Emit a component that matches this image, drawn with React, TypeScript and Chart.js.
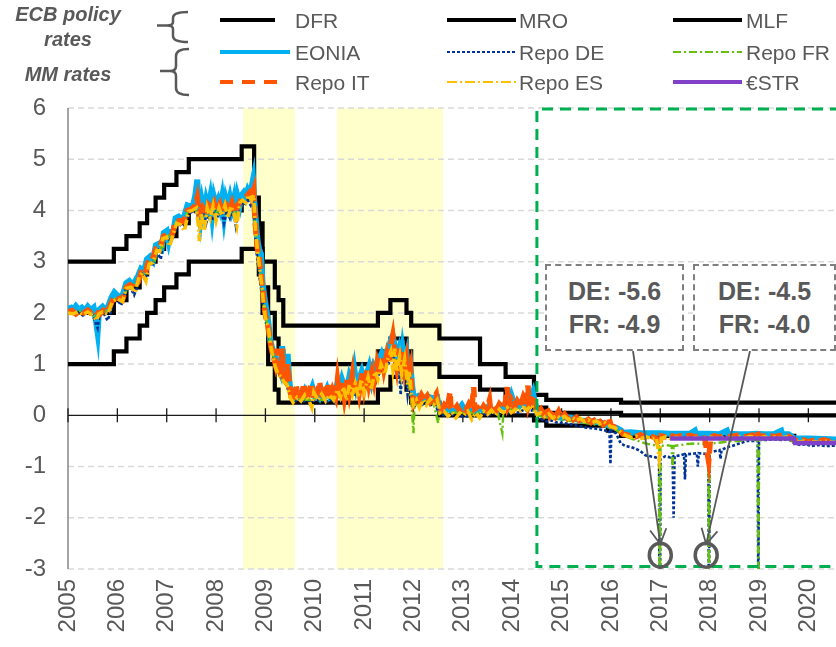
import React, { useEffect, useRef } from 'react';
import { Chart, registerables } from 'chart.js';

Chart.register(...registerables);

const FONT = "'Liberation Sans', Arial, Helvetica, sans-serif";
const GRAY = '#595959';

// ---------- axis settings ----------
const X_MIN = 2005;
const X_MAX = 2020.56;
const Y_MIN = -3;
const Y_MAX = 6;

// ---------- shaded periods (years) ----------
const shadeStarts = [2008.55, 2010.45];
const shadeEnds = [2009.6, 2012.6];

// ---------- ECB policy rates (change dates, decimal years) ----------
const policyDates = [
  2005.0, 2005.929, 2006.184, 2006.452, 2006.603, 2006.775, 2006.948, 2007.197, 2007.447, 2008.519,
  2008.771, 2008.788, 2008.866, 2008.942, 2009.055, 2009.19, 2009.266, 2009.362, 2011.279, 2011.532,
  2011.858, 2011.953, 2012.525, 2013.348, 2013.866, 2014.441, 2014.69, 2015.937, 2016.205, 2019.715, 2020.56,
];
const dfrValues = [
  1.0, 1.25, 1.5, 1.75, 2.0, 2.25, 2.5, 2.75, 3.0, 3.25,
  3.25, 3.25, 2.75, 2.0, 1.0, 0.5, 0.25, 0.25, 0.5, 0.75,
  0.5, 0.25, 0.0, 0.0, 0.0, -0.1, -0.2, -0.3, -0.4, -0.5, -0.5,
];
const mroValues = [
  2.0, 2.25, 2.5, 2.75, 3.0, 3.25, 3.5, 3.75, 4.0, 4.25,
  4.25, 3.75, 3.25, 2.5, 2.0, 1.5, 1.25, 1.0, 1.25, 1.5,
  1.25, 1.0, 0.75, 0.5, 0.25, 0.15, 0.05, 0.05, 0.0, 0.0, 0.0,
];
const mlfValues = [
  3.0, 3.25, 3.5, 3.75, 4.0, 4.25, 4.5, 4.75, 5.0, 5.25,
  4.25, 4.25, 3.75, 3.0, 3.0, 2.5, 2.25, 1.75, 2.0, 2.25,
  2.0, 1.75, 1.5, 1.0, 0.75, 0.4, 0.3, 0.3, 0.25, 0.25, 0.25,
];

// ---------- money market rates: [year, rate] ----------
const eonia: number[][] = [
  [2005.00, 2.08], [2005.06, 2.10], [2005.10, 2.05], [2005.16, 2.13], [2005.22, 2.06], [2005.28, 2.10], [2005.34, 2.04],
  [2005.40, 2.12], [2005.46, 2.05], [2005.52, 2.10], [2005.56, 1.90], [2005.60, 1.62], [2005.63, 2.06], [2005.70, 2.12],
  [2005.76, 2.05], [2005.82, 2.14], [2005.88, 2.30], [2005.94, 2.40], [2006.00, 2.34], [2006.06, 2.30], [2006.12, 2.38],
  [2006.18, 2.58], [2006.24, 2.62], [2006.30, 2.55], [2006.36, 2.62], [2006.42, 2.72], [2006.48, 2.86], [2006.54, 2.82],
  [2006.60, 3.05], [2006.66, 3.10], [2006.72, 3.02], [2006.78, 3.32], [2006.84, 3.35], [2006.90, 3.28], [2006.94, 3.56],
  [2007.00, 3.60], [2007.04, 3.40], [2007.08, 3.58], [2007.14, 3.62], [2007.18, 3.85], [2007.24, 3.88], [2007.30, 3.82],
  [2007.36, 3.90], [2007.42, 4.10], [2007.48, 4.08], [2007.54, 4.12], [2007.58, 4.30], [2007.62, 4.60], [2007.64, 4.05],
  [2007.68, 3.80], [2007.72, 4.15], [2007.76, 3.95], [2007.80, 4.20], [2007.84, 4.05], [2007.88, 4.25], [2007.92, 3.90],
  [2007.96, 4.25], [2008.00, 4.10], [2008.04, 4.20], [2008.08, 4.05], [2008.12, 4.25], [2008.16, 3.90], [2008.20, 4.22],
  [2008.24, 4.08], [2008.28, 4.25], [2008.32, 4.05], [2008.36, 4.22], [2008.40, 3.85], [2008.44, 4.25], [2008.48, 4.10],
  [2008.52, 4.30], [2008.56, 4.35], [2008.60, 4.28], [2008.64, 4.40], [2008.68, 4.32], [2008.72, 4.45], [2008.75, 4.60],
  [2008.78, 4.10], [2008.81, 3.75], [2008.84, 3.40], [2008.87, 3.25], [2008.91, 3.15], [2008.94, 2.60], [2008.98, 2.30],
  [2009.02, 2.05], [2009.06, 1.80], [2009.10, 1.45], [2009.14, 1.30], [2009.18, 1.20], [2009.22, 1.05], [2009.26, 0.95],
  [2009.30, 0.85], [2009.34, 1.35], [2009.37, 0.80], [2009.41, 0.75], [2009.45, 1.20], [2009.48, 0.70], [2009.52, 0.40],
  [2009.56, 0.36], [2009.60, 0.45], [2009.65, 0.38], [2009.70, 0.42], [2009.75, 0.36], [2009.80, 0.48], [2009.85, 0.38],
  [2009.90, 0.42], [2009.95, 0.55], [2010.00, 0.38], [2010.05, 0.45], [2010.10, 0.36], [2010.15, 0.48], [2010.20, 0.40],
  [2010.25, 0.52], [2010.30, 0.38], [2010.35, 0.45], [2010.40, 0.36], [2010.45, 0.60], [2010.50, 0.50], [2010.55, 0.70],
  [2010.60, 0.55], [2010.65, 0.48], [2010.70, 0.75], [2010.75, 0.60], [2010.80, 0.90], [2010.85, 0.55], [2010.90, 0.70],
  [2010.95, 0.85], [2011.00, 0.65], [2011.05, 0.80], [2011.10, 0.95], [2011.15, 0.70], [2011.20, 0.95], [2011.25, 0.85],
  [2011.30, 1.10], [2011.35, 1.20], [2011.40, 1.05], [2011.45, 1.25], [2011.50, 1.30], [2011.55, 1.50], [2011.58, 1.55],
  [2011.62, 1.35], [2011.66, 1.10], [2011.70, 1.25], [2011.74, 0.95], [2011.78, 1.30], [2011.82, 1.05], [2011.86, 1.20],
  [2011.90, 0.80], [2011.94, 0.95], [2011.97, 0.60], [2012.00, 0.38], [2012.05, 0.35], [2012.10, 0.38], [2012.20, 0.34],
  [2012.30, 0.36], [2012.40, 0.33], [2012.48, 0.35], [2012.52, 0.12], [2012.60, 0.10], [2012.70, 0.12], [2012.80, 0.08],
  [2012.90, 0.10], [2012.98, 0.20], [2013.05, 0.08], [2013.15, 0.10], [2013.25, 0.08], [2013.35, 0.12], [2013.45, 0.08],
  [2013.50, 0.15], [2013.60, 0.10], [2013.70, 0.12], [2013.80, 0.15], [2013.90, 0.18], [2013.98, 0.40], [2014.05, 0.20],
  [2014.15, 0.18], [2014.25, 0.25], [2014.30, 0.22], [2014.38, 0.35], [2014.42, 0.45], [2014.46, 0.25], [2014.50, 0.08],
  [2014.60, 0.05], [2014.70, 0.02], [2014.80, 0.00], [2014.90, -0.02], [2015.00, -0.05], [2015.10, -0.04], [2015.20, -0.05],
  [2015.30, -0.08], [2015.40, -0.10], [2015.50, -0.11], [2015.60, -0.12], [2015.70, -0.13], [2015.80, -0.14], [2015.90, -0.18],
  [2016.00, -0.22], [2016.10, -0.24], [2016.20, -0.29], [2016.25, -0.34], [2016.40, -0.33], [2016.60, -0.35], [2016.80, -0.35],
  [2017.00, -0.35], [2017.20, -0.36], [2017.40, -0.36], [2017.60, -0.36], [2017.70, -0.30], [2017.72, -0.36], [2017.80, -0.36],
  [2018.00, -0.36], [2018.20, -0.37], [2018.35, -0.30], [2018.37, -0.36], [2018.60, -0.37], [2018.80, -0.37], [2018.95, -0.36],
  [2019.10, -0.37], [2019.30, -0.37], [2019.45, -0.30], [2019.47, -0.37], [2019.60, -0.37], [2019.72, -0.45], [2020.00, -0.45],
  [2020.30, -0.46], [2020.56, -0.47],
];

const repoDE: number[][] = [
  [2005.00, 2.00], [2005.10, 1.98], [2005.20, 2.02], [2005.30, 1.95], [2005.40, 2.00], [2005.50, 1.96], [2005.56, 1.80],
  [2005.60, 1.70], [2005.64, 1.96], [2005.72, 2.00], [2005.80, 1.85], [2005.86, 2.00], [2005.92, 2.25], [2006.00, 2.25],
  [2006.08, 2.15], [2006.16, 2.45], [2006.26, 2.50], [2006.34, 2.35], [2006.42, 2.55], [2006.50, 2.75], [2006.56, 2.65],
  [2006.64, 2.95], [2006.72, 2.95], [2006.80, 3.20], [2006.88, 3.05], [2006.94, 3.45], [2007.00, 3.48], [2007.08, 3.40],
  [2007.16, 3.55], [2007.22, 3.75], [2007.30, 3.70], [2007.38, 3.72], [2007.46, 3.95], [2007.54, 3.98], [2007.62, 3.95],
  [2007.68, 3.65], [2007.74, 3.95], [2007.80, 3.75], [2007.86, 4.00], [2007.92, 3.80], [2007.98, 4.05], [2008.04, 3.90],
  [2008.10, 4.02], [2008.16, 3.75], [2008.22, 4.00], [2008.28, 3.85], [2008.34, 4.05], [2008.40, 3.70], [2008.46, 4.05],
  [2008.52, 4.15], [2008.58, 4.10], [2008.64, 4.20], [2008.70, 4.10], [2008.76, 4.25], [2008.80, 3.40], [2008.84, 3.00],
  [2008.88, 2.70], [2008.92, 2.40], [2008.96, 2.10], [2009.00, 1.85], [2009.06, 1.60], [2009.12, 1.25], [2009.18, 1.05],
  [2009.24, 0.90], [2009.30, 0.75], [2009.36, 0.70], [2009.42, 0.60], [2009.48, 0.45], [2009.54, 0.30], [2009.62, 0.28],
  [2009.72, 0.32], [2009.82, 0.26], [2009.92, 0.30], [2010.02, 0.28], [2010.12, 0.32], [2010.22, 0.25], [2010.32, 0.30],
  [2010.42, 0.28], [2010.52, 0.38], [2010.62, 0.35], [2010.72, 0.45], [2010.82, 0.40], [2010.92, 0.55], [2011.02, 0.50],
  [2011.12, 0.65], [2011.22, 0.60], [2011.32, 0.85], [2011.42, 0.90], [2011.52, 1.05], [2011.58, 1.20], [2011.64, 0.90],
  [2011.70, 1.00], [2011.74, 0.40], [2011.78, 0.95], [2011.84, 0.80], [2011.88, 0.40], [2011.92, 0.70], [2011.96, 0.35],
  [2012.00, 0.15], [2012.06, 0.22], [2012.14, 0.18], [2012.24, 0.25], [2012.34, 0.20], [2012.44, 0.22], [2012.52, 0.02],
  [2012.62, 0.00], [2012.72, -0.02], [2012.82, 0.02], [2012.92, -0.04], [2013.02, 0.00], [2013.12, -0.03], [2013.22, 0.02],
  [2013.32, -0.02], [2013.42, 0.03], [2013.52, 0.00], [2013.62, 0.04], [2013.72, 0.02], [2013.82, 0.06], [2013.92, 0.04],
  [2014.02, 0.08], [2014.12, 0.05], [2014.22, 0.10], [2014.32, 0.08], [2014.42, 0.10], [2014.50, -0.05], [2014.60, -0.08],
  [2014.70, -0.12], [2014.80, -0.10], [2014.90, -0.14], [2015.00, -0.15], [2015.10, -0.16], [2015.20, -0.18], [2015.30, -0.20],
  [2015.40, -0.22], [2015.50, -0.24], [2015.60, -0.25], [2015.70, -0.26], [2015.80, -0.28], [2015.90, -0.30], [2015.97, -0.30],
  [2015.99, -0.95], [2016.01, -0.30], [2016.10, -0.35], [2016.20, -0.55], [2016.30, -0.60], [2016.40, -0.62], [2016.50, -0.65],
  [2016.60, -0.70], [2016.70, -0.78], [2016.80, -0.80], [2016.90, -0.82], [2016.975, -0.85], [2016.99, -5.6], [2017.005, -0.85],
  [2017.10, -0.80], [2017.20, -0.82], [2017.25, -0.80], [2017.27, -2.0], [2017.29, -0.80], [2017.40, -0.78], [2017.48, -0.76],
  [2017.50, -1.25], [2017.52, -0.76], [2017.65, -0.75], [2017.74, -0.74], [2017.76, -1.0], [2017.78, -0.74], [2017.90, -0.75],
  [2017.975, -0.75], [2017.985, -4.5], [2018.0, -0.72], [2018.10, -0.70], [2018.20, -0.68], [2018.22, -0.85], [2018.24, -0.68],
  [2018.35, -0.62], [2018.45, -0.60], [2018.60, -0.55], [2018.75, -0.50], [2018.90, -0.50], [2018.975, -0.50], [2018.985, -3.6],
  [2019.0, -0.48], [2019.15, -0.48], [2019.30, -0.47], [2019.45, -0.48], [2019.60, -0.47], [2019.72, -0.55], [2019.85, -0.58],
  [2019.95, -0.56], [2020.05, -0.60], [2020.20, -0.58], [2020.35, -0.60], [2020.56, -0.59],
];

const repoFR: number[][] = [
  [2005.00, 2.04], [2005.15, 2.02], [2005.30, 2.05], [2005.45, 2.00], [2005.58, 1.90], [2005.64, 2.02], [2005.78, 2.04],
  [2005.90, 2.25], [2006.00, 2.30], [2006.15, 2.30], [2006.20, 2.52], [2006.35, 2.50], [2006.46, 2.78], [2006.58, 2.75],
  [2006.64, 3.00], [2006.76, 3.02], [2006.82, 3.25], [2006.92, 3.28], [2006.96, 3.50], [2007.10, 3.52], [2007.20, 3.78],
  [2007.35, 3.80], [2007.45, 4.02], [2007.58, 4.05], [2007.64, 3.85], [2007.72, 4.05], [2007.80, 3.90], [2007.90, 4.10],
  [2008.00, 3.95], [2008.10, 4.10], [2008.20, 4.00], [2008.30, 4.12], [2008.40, 3.90], [2008.50, 4.20], [2008.62, 4.25],
  [2008.74, 4.30], [2008.80, 3.60], [2008.86, 3.10], [2008.92, 2.50], [2008.98, 2.10], [2009.05, 1.70], [2009.12, 1.30],
  [2009.20, 1.00], [2009.28, 0.80], [2009.36, 0.70], [2009.44, 0.65], [2009.50, 0.40], [2009.58, 0.30], [2009.70, 0.33],
  [2009.85, 0.30], [2010.00, 0.32], [2010.15, 0.30], [2010.30, 0.33], [2010.45, 0.35], [2010.60, 0.40], [2010.75, 0.48],
  [2010.90, 0.55], [2011.05, 0.60], [2011.20, 0.70], [2011.35, 0.95], [2011.50, 1.10], [2011.58, 1.30], [2011.66, 1.00],
  [2011.74, 1.10], [2011.82, 0.90], [2011.90, 0.65], [2011.96, 0.20], [2012.00, -0.35], [2012.02, 0.20], [2012.10, 0.25],
  [2012.25, 0.28], [2012.40, 0.26], [2012.50, -0.15], [2012.52, 0.08], [2012.65, 0.05], [2012.80, 0.06], [2012.95, 0.04],
  [2013.10, 0.06], [2013.25, 0.04], [2013.40, 0.07], [2013.55, 0.05], [2013.70, 0.08], [2013.80, -0.35], [2013.82, 0.08],
  [2013.95, 0.12], [2014.10, 0.12], [2014.25, 0.15], [2014.40, 0.15], [2014.50, 0.00], [2014.65, -0.04], [2014.80, -0.06],
  [2014.95, -0.08], [2015.10, -0.10], [2015.25, -0.12], [2015.40, -0.14], [2015.55, -0.16], [2015.70, -0.18], [2015.85, -0.20],
  [2015.98, -0.25], [2016.10, -0.28], [2016.25, -0.40], [2016.40, -0.45], [2016.55, -0.50], [2016.70, -0.55], [2016.85, -0.58],
  [2016.975, -0.60], [2016.99, -4.9], [2017.005, -0.60], [2017.12, -0.58], [2017.23, -0.60], [2017.25, -1.05], [2017.27, -0.60],
  [2017.40, -0.58], [2017.55, -0.56], [2017.70, -0.55], [2017.85, -0.56], [2017.975, -0.56], [2017.985, -4.0], [2018.0, -0.55],
  [2018.15, -0.54], [2018.30, -0.52], [2018.45, -0.50], [2018.60, -0.50], [2018.75, -0.48], [2018.90, -0.48], [2018.975, -0.50],
  [2018.985, -3.4], [2019.0, -0.48], [2019.15, -0.47], [2019.30, -0.46], [2019.45, -0.47], [2019.60, -0.46], [2019.72, -0.54],
  [2019.85, -0.55], [2020.00, -0.56], [2020.20, -0.55], [2020.40, -0.56], [2020.56, -0.55],
];

const repoIT: number[][] = [
  [2005.00, 2.02], [2005.08, 2.05], [2005.16, 1.98], [2005.24, 2.04], [2005.32, 2.00], [2005.40, 2.05], [2005.48, 1.98],
  [2005.56, 2.03], [2005.64, 1.97], [2005.72, 2.05], [2005.80, 2.02], [2005.88, 2.20], [2005.94, 2.32], [2006.02, 2.28],
  [2006.10, 2.25], [2006.18, 2.50], [2006.26, 2.55], [2006.34, 2.50], [2006.42, 2.60], [2006.48, 2.78], [2006.56, 2.75],
  [2006.62, 2.98], [2006.70, 3.02], [2006.78, 3.25], [2006.86, 3.28], [2006.94, 3.50], [2007.02, 3.52], [2007.10, 3.50],
  [2007.18, 3.78], [2007.26, 3.80], [2007.34, 3.78], [2007.42, 4.00], [2007.50, 4.02], [2007.58, 4.10], [2007.62, 4.25],
  [2007.66, 3.95], [2007.72, 4.05], [2007.78, 3.90], [2007.84, 4.10], [2007.90, 4.00], [2007.96, 4.15], [2008.02, 3.98],
  [2008.08, 4.12], [2008.14, 3.95], [2008.20, 4.10], [2008.26, 4.00], [2008.32, 4.15], [2008.38, 3.95], [2008.44, 4.10],
  [2008.50, 4.20], [2008.56, 4.25], [2008.62, 4.28], [2008.68, 4.35], [2008.72, 4.25], [2008.76, 4.38], [2008.79, 3.80],
  [2008.83, 3.30], [2008.87, 3.10], [2008.91, 2.80], [2008.95, 2.40], [2008.99, 2.00], [2009.04, 1.80], [2009.08, 1.55],
  [2009.12, 1.30], [2009.16, 1.15], [2009.20, 1.00], [2009.24, 1.30], [2009.27, 0.90], [2009.31, 0.75], [2009.34, 1.30],
  [2009.37, 0.70], [2009.41, 0.65], [2009.45, 1.00], [2009.49, 0.55], [2009.53, 0.32], [2009.57, 0.28], [2009.62, 0.60],
  [2009.66, 0.30], [2009.72, 0.35], [2009.78, 0.62], [2009.82, 0.30], [2009.88, 0.45], [2009.93, 0.62], [2009.98, 0.30],
  [2010.04, 0.40], [2010.10, 0.65], [2010.14, 0.32], [2010.20, 0.45], [2010.26, 0.62], [2010.30, 0.30], [2010.36, 0.50],
  [2010.42, 0.35], [2010.46, 0.70], [2010.50, 0.40], [2010.56, 0.65], [2010.60, 0.35], [2010.66, 0.72], [2010.70, 0.45],
  [2010.76, 0.80], [2010.80, 0.40], [2010.86, 0.70], [2010.90, 0.45], [2010.96, 0.85], [2011.00, 0.55], [2011.06, 0.90],
  [2011.10, 0.60], [2011.16, 0.85], [2011.20, 0.65], [2011.26, 1.00], [2011.30, 0.80], [2011.36, 1.15], [2011.40, 0.90],
  [2011.46, 1.20], [2011.50, 1.05], [2011.55, 1.40], [2011.58, 1.55], [2011.62, 1.20], [2011.66, 0.95], [2011.70, 1.30],
  [2011.74, 0.85], [2011.78, 1.25], [2011.82, 0.90], [2011.86, 1.10], [2011.90, 0.70], [2011.94, 0.90], [2011.97, 0.45],
  [2012.00, 0.25], [2012.04, 0.35], [2012.10, 0.28], [2012.16, 0.40], [2012.22, 0.30], [2012.28, 0.38], [2012.34, 0.26],
  [2012.40, 0.33], [2012.46, 0.42], [2012.50, 0.15], [2012.56, 0.10], [2012.62, 0.20], [2012.68, 0.12], [2012.74, 0.45],
  [2012.76, 0.15], [2012.82, 0.10], [2012.88, 0.18], [2012.94, 0.08], [2013.00, 0.15], [2013.06, 0.10], [2013.12, 0.22],
  [2013.18, 0.12], [2013.22, 0.55], [2013.24, 0.12], [2013.30, 0.15], [2013.36, 0.08], [2013.42, 0.18], [2013.48, 0.10],
  [2013.54, 0.30], [2013.56, 0.12], [2013.62, 0.18], [2013.68, 0.10], [2013.74, 0.22], [2013.80, 0.15], [2013.86, 0.25],
  [2013.90, 0.55], [2013.92, 0.18], [2013.98, 0.30], [2014.04, 0.15], [2014.10, 0.28], [2014.16, 0.18], [2014.22, 0.35],
  [2014.28, 0.20], [2014.32, 0.58], [2014.34, 0.22], [2014.40, 0.40], [2014.44, 0.25], [2014.48, 0.15], [2014.52, 0.05],
  [2014.58, 0.12], [2014.64, 0.02], [2014.70, 0.15], [2014.76, 0.00], [2014.82, 0.10], [2014.88, -0.02], [2014.94, 0.08],
  [2015.00, -0.05], [2015.06, 0.02], [2015.12, -0.06], [2015.18, 0.00], [2015.24, -0.08], [2015.30, -0.04], [2015.36, -0.10],
  [2015.42, -0.06], [2015.48, -0.12], [2015.54, -0.08], [2015.60, -0.14], [2015.66, -0.10], [2015.72, -0.16], [2015.78, -0.12],
  [2015.84, -0.18], [2015.90, -0.14], [2015.96, -0.05], [2016.00, -0.20], [2016.06, -0.22], [2016.12, -0.26], [2016.18, -0.30],
  [2016.24, -0.36], [2016.30, -0.38], [2016.40, -0.40], [2016.50, -0.42], [2016.60, -0.38], [2016.70, -0.43], [2016.80, -0.40],
  [2016.90, -0.44], [2016.98, -0.60], [2017.02, -0.40], [2017.10, -0.42], [2017.20, -0.38], [2017.30, -0.43], [2017.40, -0.40],
  [2017.50, -0.42], [2017.60, -0.39], [2017.70, -0.42], [2017.80, -0.40], [2017.90, -0.45], [2017.98, -0.90], [2018.02, -0.42],
  [2018.10, -0.40], [2018.20, -0.43], [2018.30, -0.39], [2018.40, -0.42], [2018.50, -0.40], [2018.60, -0.38], [2018.70, -0.42],
  [2018.80, -0.40], [2018.90, -0.38], [2018.96, -0.30], [2019.00, -0.42], [2019.10, -0.40], [2019.20, -0.38], [2019.30, -0.42],
  [2019.40, -0.40], [2019.50, -0.39], [2019.60, -0.41], [2019.72, -0.48], [2019.80, -0.50], [2019.90, -0.48], [2020.00, -0.52],
  [2020.10, -0.49], [2020.20, -0.51], [2020.30, -0.48], [2020.40, -0.50], [2020.56, -0.52],
];

const repoES: number[][] = [
  [2005.00, 2.00], [2005.10, 1.98], [2005.20, 2.02], [2005.30, 1.96], [2005.40, 2.02], [2005.50, 1.95], [2005.58, 1.85],
  [2005.62, 1.98], [2005.70, 2.02], [2005.80, 1.97], [2005.90, 2.22], [2006.00, 2.28], [2006.10, 2.22], [2006.18, 2.48],
  [2006.28, 2.50], [2006.36, 2.40], [2006.44, 2.70], [2006.50, 2.78], [2006.58, 2.62], [2006.64, 2.95], [2006.72, 2.98],
  [2006.80, 3.22], [2006.86, 3.20], [2006.92, 3.45], [2007.00, 3.48], [2007.06, 3.30], [2007.12, 3.50], [2007.20, 3.75],
  [2007.28, 3.72], [2007.36, 3.60], [2007.44, 3.98], [2007.52, 4.00], [2007.60, 4.05], [2007.64, 3.70], [2007.66, 3.40],
  [2007.70, 3.95], [2007.76, 3.60], [2007.82, 4.05], [2007.88, 3.85], [2007.94, 4.10], [2008.00, 3.80], [2008.06, 4.05],
  [2008.12, 3.90], [2008.18, 4.10], [2008.24, 3.85], [2008.30, 4.08], [2008.36, 3.95], [2008.42, 3.70], [2008.48, 4.15],
  [2008.54, 4.20], [2008.60, 4.15], [2008.66, 4.30], [2008.72, 4.20], [2008.76, 4.30], [2008.80, 3.60], [2008.84, 3.20],
  [2008.88, 2.90], [2008.92, 2.60], [2008.96, 2.20], [2009.00, 1.90], [2009.06, 1.70], [2009.10, 1.40], [2009.14, 1.20],
  [2009.20, 0.95], [2009.26, 0.80], [2009.32, 0.75], [2009.38, 0.65], [2009.44, 0.60], [2009.50, 0.35], [2009.56, 0.25],
  [2009.64, 0.35], [2009.72, 0.28], [2009.80, 0.40], [2009.88, 0.30], [2009.94, 0.15], [2009.98, 0.45], [2010.06, 0.30],
  [2010.14, 0.42], [2010.22, 0.28], [2010.30, 0.40], [2010.38, 0.30], [2010.46, 0.50], [2010.52, 0.35], [2010.58, 0.55],
  [2010.64, 0.30], [2010.70, 0.60], [2010.76, 0.40], [2010.82, 0.62], [2010.88, 0.35], [2010.94, 0.70], [2011.00, 0.45],
  [2011.08, 0.75], [2011.14, 0.50], [2011.22, 0.85], [2011.28, 0.70], [2011.34, 1.00], [2011.42, 0.80], [2011.48, 1.10],
  [2011.54, 1.25], [2011.58, 0.90], [2011.62, 1.30], [2011.66, 0.85], [2011.72, 1.15], [2011.76, 0.80], [2011.82, 1.10],
  [2011.88, 0.60], [2011.92, 0.85], [2011.96, 0.40], [2012.00, 0.20], [2012.06, 0.30], [2012.12, 0.15], [2012.20, 0.30],
  [2012.26, 0.20], [2012.34, 0.32], [2012.42, 0.22], [2012.48, 0.30], [2012.54, 0.05], [2012.62, 0.08], [2012.70, -0.02],
  [2012.78, 0.06], [2012.86, -0.05], [2012.94, 0.05], [2013.02, 0.00], [2013.10, 0.08], [2013.18, -0.08], [2013.26, 0.05],
  [2013.34, -0.05], [2013.42, 0.08], [2013.50, 0.02], [2013.58, 0.10], [2013.66, 0.00], [2013.74, 0.12], [2013.82, 0.05],
  [2013.90, 0.15], [2013.98, 0.05], [2014.06, 0.12], [2014.14, 0.06], [2014.22, 0.15], [2014.30, 0.10], [2014.38, 0.20],
  [2014.44, 0.12], [2014.50, 0.02], [2014.58, 0.05], [2014.66, -0.02], [2014.74, 0.03], [2014.82, -0.05], [2014.90, 0.00],
  [2014.98, -0.06], [2015.06, -0.02], [2015.14, -0.08], [2015.22, -0.04], [2015.30, -0.10], [2015.38, -0.06], [2015.46, -0.12],
  [2015.54, -0.09], [2015.62, -0.14], [2015.70, -0.11], [2015.78, -0.16], [2015.86, -0.13], [2015.94, -0.18], [2016.00, -0.22],
  [2016.08, -0.24], [2016.16, -0.30], [2016.24, -0.36], [2016.32, -0.40], [2016.42, -0.43], [2016.52, -0.41], [2016.62, -0.45],
  [2016.72, -0.42], [2016.82, -0.46], [2016.92, -0.44], [2016.98, -0.85], [2017.02, -0.45], [2017.12, -0.42], [2017.22, -0.46],
  [2017.32, -0.43], [2017.42, -0.45], [2017.52, -0.42], [2017.62, -0.46], [2017.72, -0.43], [2017.82, -0.45], [2017.92, -0.44],
  [2018.02, -0.43], [2018.12, -0.45], [2018.22, -0.42], [2018.32, -0.46], [2018.42, -0.43], [2018.52, -0.45], [2018.62, -0.42],
  [2018.72, -0.44], [2018.82, -0.41], [2018.92, -0.43], [2019.02, -0.44], [2019.12, -0.42], [2019.22, -0.45], [2019.32, -0.42],
  [2019.42, -0.44], [2019.52, -0.43], [2019.62, -0.42], [2019.72, -0.50], [2019.82, -0.52], [2019.92, -0.50], [2020.02, -0.53],
  [2020.12, -0.51], [2020.22, -0.53], [2020.32, -0.50], [2020.42, -0.52], [2020.56, -0.53],
];

const estr: number[][] = [
  [2017.20, -0.45], [2017.60, -0.45], [2018.00, -0.45], [2018.50, -0.45], [2019.00, -0.45], [2019.71, -0.45],
  [2019.73, -0.54], [2020.10, -0.54], [2020.56, -0.54],
];

// ---------- annotations ----------
const calloutDE = ['-5.6', '-4.5'];
const calloutFR = ['-4.9', '-4.0'];
const circleYears = [2017.0, 2017.93];
const circleValue = -2.73;

// ---------- legend ----------
const legendLabels = ['DFR', 'MRO', 'MLF', 'EONIA', 'Repo DE', 'Repo FR', 'Repo IT', 'Repo ES', '€STR'];
const legendColors = ['#000000', '#000000', '#000000', '#00B0F0', '#003399', '#66C010', '#FF5500', '#FFC000', '#8040C8'];

const pairs = (p: number[][]) => p.map(([x, y]) => ({ x, y }));
const zipXY = (xs: number[], ys: number[]) => xs.map((x, i) => ({ x, y: ys[i] }));

const decorPlugin = {
  id: 'decor',
  beforeDatasetsDraw(chart: any) {
    const { ctx, chartArea: a, scales } = chart;
    const xs = scales.x;
    const ys = scales.y;
    ctx.save();
    // shaded periods
    ctx.fillStyle = '#FFFFCC';
    shadeStarts.forEach((s, i) => {
      const x1 = xs.getPixelForValue(s);
      const x2 = xs.getPixelForValue(shadeEnds[i]);
      ctx.fillRect(x1, a.top, x2 - x1, a.bottom - a.top);
    });
    // dashed grid
    ctx.strokeStyle = '#D9D9D9';
    ctx.lineWidth = 1.5;
    ctx.setLineDash([6, 4]);
    for (let v = Y_MIN; v <= Y_MAX; v++) {
      if (v === 0) continue;
      const py = ys.getPixelForValue(v);
      ctx.beginPath();
      ctx.moveTo(a.left, py);
      ctx.lineTo(a.right, py);
      ctx.stroke();
    }
    ctx.setLineDash([]);
    // y axis line
    ctx.strokeStyle = '#868686';
    ctx.lineWidth = 1.5;
    ctx.beginPath();
    ctx.moveTo(a.left, a.top);
    ctx.lineTo(a.left, a.bottom);
    ctx.stroke();
    // zero axis with crossing ticks
    const y0 = ys.getPixelForValue(0);
    ctx.strokeStyle = '#1a1a1a';
    ctx.lineWidth = 1.3;
    ctx.beginPath();
    ctx.moveTo(a.left, y0);
    ctx.lineTo(a.right, y0);
    for (let yr = 2005; yr <= 2020; yr++) {
      const px = xs.getPixelForValue(yr);
      ctx.moveTo(px, y0 - 7);
      ctx.lineTo(px, y0 + 7);
    }
    ctx.stroke();
    ctx.restore();
  },
  afterDatasetsDraw(chart: any) {
    const { ctx, chartArea: a, scales } = chart;
    const xs = scales.x;
    const ys = scales.y;
    ctx.save();
    // green dashed box
    ctx.strokeStyle = '#00B050';
    ctx.lineWidth = 3;
    ctx.setLineDash([11, 7]);
    const gx = xs.getPixelForValue(2014.5);
    const gt = ys.getPixelForValue(6) + 1;
    const gb = ys.getPixelForValue(-2.95);
    ctx.beginPath();
    ctx.moveTo(a.right + 5, gt);
    ctx.lineTo(gx, gt);
    ctx.lineTo(gx, gb);
    ctx.lineTo(a.right + 5, gb);
    ctx.stroke();
    ctx.setLineDash([]);
    // arrows and circles
    const starts = [[633, 351], [750, 351]];
    ctx.strokeStyle = GRAY;
    circleYears.forEach((yr, i) => {
      const cx = xs.getPixelForValue(yr);
      const cy = ys.getPixelForValue(circleValue);
      const [sx, sy] = starts[i];
      const ex = cx;
      const ey = cy - 11;
      ctx.lineWidth = 1.8;
      ctx.beginPath();
      ctx.moveTo(sx, sy);
      ctx.lineTo(ex, ey);
      const ang = Math.atan2(ey - sy, ex - sx);
      const L = 17;
      const spread = 0.5;
      ctx.moveTo(ex - L * Math.cos(ang - spread), ey - L * Math.sin(ang - spread));
      ctx.lineTo(ex, ey);
      ctx.lineTo(ex - L * Math.cos(ang + spread), ey - L * Math.sin(ang + spread));
      ctx.stroke();
      ctx.lineWidth = 3.5;
      ctx.beginPath();
      ctx.ellipse(cx, cy, 11, 12, 0, 0, Math.PI * 2);
      ctx.stroke();
    });
    ctx.restore();
  },
};

function LegendLine({ x1, x2, y, color, width, dash }: any) {
  return <line x1={x1} x2={x2} y1={y} y2={y} stroke={color} strokeWidth={width} strokeDasharray={dash} />;
}

export default function App() {
  const ref = useRef<HTMLCanvasElement>(null);

  useEffect(() => {
    if (!ref.current) return;
    const blackLine = (label: string, values: number[]) => ({
      label,
      data: zipXY(policyDates, values),
      borderColor: '#000000',
      borderWidth: 4.2,
      stepped: true,
      order: 10,
    });
    const chart = new Chart(ref.current, {
      type: 'line',
      data: {
        datasets: [
          blackLine('DFR', dfrValues),
          blackLine('MRO', mroValues),
          blackLine('MLF', mlfValues),
          { label: 'EONIA', data: pairs(eonia), borderColor: legendColors[3], borderWidth: 6, order: 6 },
          { label: 'Repo DE', data: pairs(repoDE), borderColor: legendColors[4], borderWidth: 2.6, borderDash: [3, 2], order: 5 },
          { label: 'Repo FR', data: pairs(repoFR), borderColor: legendColors[5], borderWidth: 2.4, borderDash: [8, 3, 2, 3], order: 4 },
          { label: 'Repo IT', data: pairs(repoIT), borderColor: legendColors[6], borderWidth: 5.5, borderDash: [12, 5], order: 3 },
          { label: 'Repo ES', data: pairs(repoES), borderColor: legendColors[7], borderWidth: 3.5, borderDash: [10, 3, 2, 3], order: 2 },
          { label: '€STR', data: pairs(estr), borderColor: legendColors[8], borderWidth: 4.5, order: 1 },
        ] as any,
      },
      options: {
        responsive: false,
        animation: false,
        devicePixelRatio: 1,
        parsing: true,
        layout: { padding: { top: 108, right: 0, left: 0, bottom: 0 } },
        elements: { point: { radius: 0 }, line: { tension: 0, fill: false } },
        plugins: { legend: { display: false }, tooltip: { enabled: false } },
        scales: {
          x: {
            type: 'linear',
            min: X_MIN,
            max: X_MAX,
            grid: { display: false, drawTicks: false },
            border: { display: false },
            afterFit: (s: any) => { s.height = 78; s.paddingLeft = 0; s.paddingRight = 0; },
            ticks: {
              stepSize: 1,
              autoSkip: false,
              includeBounds: false,
              minRotation: 90,
              maxRotation: 90,
              padding: 10,
              color: GRAY,
              font: { family: FONT, size: 24 },
              callback: (v: any) => String(v),
            },
          },
          y: {
            type: 'linear',
            min: Y_MIN,
            max: Y_MAX,
            grid: { display: false, drawTicks: false },
            border: { display: false },
            afterFit: (s: any) => { s.width = 68; s.paddingTop = 0; s.paddingBottom = 0; },
            ticks: {
              stepSize: 1,
              padding: 22,
              color: GRAY,
              font: { family: FONT, size: 24 },
              callback: (v: any) => String(v),
            },
          },
        },
      } as any,
      plugins: [decorPlugin],
    });
    return () => chart.destroy();
  }, []);

  const textStyle = (left: number, cy: number): React.CSSProperties => ({
    position: 'absolute', left, top: cy - 12, lineHeight: '24px', fontSize: 21, color: GRAY, whiteSpace: 'nowrap',
  });
  const boxStyle = (left: number, width: number): React.CSSProperties => ({
    position: 'absolute', left, top: 264, width, height: 87, boxSizing: 'border-box',
    border: '2px dashed #7F7F7F', background: '#ffffff', display: 'flex', flexDirection: 'column',
    justifyContent: 'center', alignItems: 'center', fontWeight: 'bold', fontSize: 25, lineHeight: '33px', color: GRAY,
  });
  const colX = [[220, 275, 295], [447, 516, 519], [673, 742, 746]];
  const rowY = [20, 52, 82];

  return (
    <div style={{ position: 'absolute', left: 0, top: 0, width: 836, height: 647, background: '#fff', fontFamily: FONT, overflow: 'hidden' }}>
      <canvas ref={ref} width={836} height={647} style={{ position: 'absolute', left: 0, top: 0, width: 836, height: 647 }} />
      {/* left group labels */}
      <div style={{ position: 'absolute', left: 0, top: 2, width: 136, textAlign: 'center', fontWeight: 'bold', fontStyle: 'italic', fontSize: 20, lineHeight: '25px', color: GRAY }}>
        ECB policy<br />rates
      </div>
      <div style={{ position: 'absolute', left: 0, top: 62, width: 136, textAlign: 'center', fontWeight: 'bold', fontStyle: 'italic', fontSize: 20, lineHeight: '25px', color: GRAY }}>
        MM rates
      </div>
      <svg width={836} height={100} style={{ position: 'absolute', left: 0, top: 0 }}>
        <path d="M188 12 Q173 12 173 18 L173 22 Q173 25.5 167 25.5 L157 25.5 M167 25.5 Q173 25.5 173 29 L173 36 Q173 42 188 42" fill="none" stroke={GRAY} strokeWidth={2.5} />
        <path d="M189 49 Q176 49 176 56 L176 66 Q176 71 170 71 L160 71 M170 71 Q176 71 176 76 L176 88 Q176 95 189 95" fill="none" stroke={GRAY} strokeWidth={2.5} />
        <LegendLine x1={colX[0][0]} x2={colX[0][1]} y={rowY[0]} color={legendColors[0]} width={4} />
        <LegendLine x1={colX[1][0]} x2={colX[1][1]} y={rowY[0]} color={legendColors[1]} width={4} />
        <LegendLine x1={colX[2][0]} x2={colX[2][1]} y={rowY[0]} color={legendColors[2]} width={4} />
        <LegendLine x1={colX[0][0]} x2={290} y={rowY[1]} color={legendColors[3]} width={4} />
        <LegendLine x1={colX[1][0]} x2={colX[1][1]} y={rowY[1]} color={legendColors[4]} width={2} dash="3 2" />
        <LegendLine x1={colX[2][0]} x2={colX[2][1]} y={rowY[1]} color={legendColors[5]} width={2} dash="8 3 2 3" />
        <LegendLine x1={colX[0][0]} x2={284} y={rowY[2]} color={legendColors[6]} width={4} dash="13 9" />
        <LegendLine x1={colX[1][0]} x2={colX[1][1]} y={rowY[2]} color={legendColors[7]} width={2} dash="10 3 2 3" />
        <LegendLine x1={colX[2][0]} x2={colX[2][1]} y={rowY[2]} color={legendColors[8]} width={4} />
      </svg>
      {legendLabels.map((lab, i) => (
        <div key={lab} style={textStyle(colX[i % 3][2], rowY[Math.floor(i / 3)] + 1)}>{lab}</div>
      ))}
      {calloutDE.map((de, i) => (
        <div key={'c' + i} style={boxStyle(i === 0 ? 545 : 693, i === 0 ? 139 : 143)}>
          <div>DE: {de}</div>
          <div>FR: {calloutFR[i]}</div>
        </div>
      ))}
    </div>
  );
}
